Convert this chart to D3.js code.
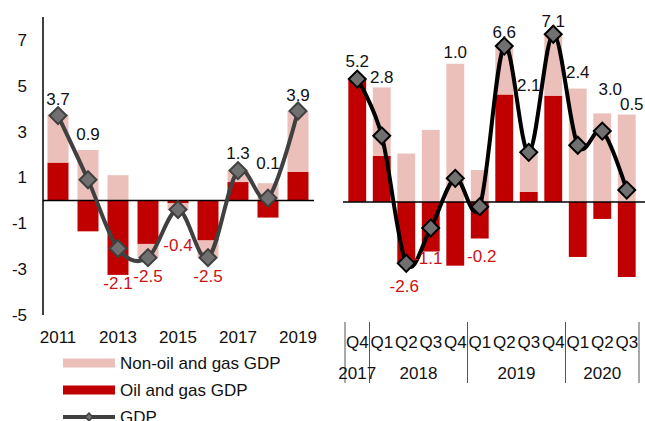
<!DOCTYPE html>
<html>
<head>
<meta charset="utf-8">
<script src="https://cdn.jsdelivr.net/npm/d3@7"></script>
<style>
  html, body { margin: 0; padding: 0; background: #fff; }
  svg { display: block; font-family: "Liberation Sans", Arial, sans-serif; }
</style>
</head>
<body>
<div id="chart"></div>
<script>
// annual panel
const years = ['2011', '2012', '2013', '2014', '2015', '2016', '2017', '2018', '2019'];
const yearTicks = ['2011', '2013', '2015', '2017', '2019'];
const yearGdp = [3.7, 0.9, -2.1, -2.5, -0.4, -2.5, 1.3, 0.1, 3.9];
const yearOil = [1.65, -1.35, -3.25, -1.9, -0.13, -1.75, 0.8, -0.75, 1.25];
const yearNonOil = [2.1, 2.2, 1.1, -0.6, -0.3, -0.75, 0.5, 0.75, 2.65];

// quarterly panel
const quarters = ['Q4', 'Q1', 'Q2', 'Q3', 'Q4', 'Q1', 'Q2', 'Q3', 'Q4', 'Q1', 'Q2', 'Q3'];
const quarterYears = ['2017', '2018', '2018', '2018', '2018', '2019', '2019', '2019', '2019', '2020', '2020', '2020'];
const qGdp = [5.2, 2.8, -2.6, -1.1, 1.0, -0.2, 6.6, 2.1, 7.1, 2.4, 3.0, 0.5];
const qOil = [5.17, 1.95, -2.55, -2.1, -2.7, -1.55, 4.55, 0.42, 4.5, -2.33, -0.72, -3.18];
const qNonOil = [0, 2.9, 2.05, 3.05, 5.85, 1.35, 2.0, 1.78, 2.65, 4.8, 3.75, 3.7];

const yTicks = [-5, -3, -1, 1, 3, 5, 7];
const legendItems = ['Non-oil and gas GDP', 'Oil and gas GDP', 'GDP'];

// label nudges (px, relative to each GDP marker)
const yearLabelDy = [-17, -46, 35, 18, 35, 18, -18, -35, -16];
const qLabelDx = [0, 0, -2, -3, 0, 2, 0, 0, 0, 0, 8, 5];
const qLabelDy = [-18, -59, 23, 30, -126, 49, -14, -67, -13, -73, -42, -86];

const width = 645;
const height = 421;
const lightRed = '#ecc0ba';
const darkRed = '#c00000';
const labelRed = '#cc1111';

const svg = d3.select('#chart').append('svg')
  .attr('width', width)
  .attr('height', height);

const diamond = d3.symbol(d3.symbolSquare, 144);

function stackRows(cats, oil, nonOil) {
  return cats.map((c, i) => {
    const rows = [];
    let pos = 0, neg = 0;
    [['oil', oil[i]], ['non', nonOil[i]]].forEach(([k, v]) => {
      if (v >= 0) { rows.push({ k, y0: pos, y1: pos + v }); pos += v; }
      else { rows.push({ k, y0: neg, y1: neg + v }); neg += v; }
    });
    return { i, rows };
  });
}

function drawPanel(opts) {
  const { cats, oil, nonOil, gdp, x, y, lineColour, strokeColour, dx, dy } = opts;
  const g = svg.append('g');
  const key = (d, i) => i;

  const stacks = stackRows(cats, oil, nonOil);
  stacks.forEach(s => {
    s.rows.forEach(r => {
      g.append('rect')
        .attr('x', x(s.i))
        .attr('width', x.bandwidth())
        .attr('y', y(Math.max(r.y0, r.y1)))
        .attr('height', Math.abs(y(r.y0) - y(r.y1)))
        .attr('fill', r.k === 'oil' ? darkRed : lightRed);
    });
  });

  g.append('line')
    .attr('x1', opts.zeroX[0]).attr('x2', opts.zeroX[1])
    .attr('y1', y(0)).attr('y2', y(0))
    .attr('stroke', '#000').attr('stroke-width', 1.5);

  const cx = i => x(i) + x.bandwidth() / 2;

  g.append('path')
    .datum(gdp)
    .attr('fill', 'none')
    .attr('stroke', lineColour)
    .attr('stroke-width', 4)
    .attr('d', d3.line()
      .x((d, i) => cx(i))
      .y(d => y(d))
      .curve(d3.curveCardinal.tension(0)));

  g.selectAll('.mk')
    .data(gdp)
    .enter()
    .append('path')
    .attr('d', diamond)
    .attr('transform', (d, i) => `translate(${cx(i)},${y(d)}) rotate(45)`)
    .attr('fill', '#707070')
    .attr('stroke', strokeColour)
    .attr('stroke-width', 2);

  g.selectAll('.lbl')
    .data(gdp)
    .enter()
    .append('text')
    .attr('x', (d, i) => cx(i) + (dx ? dx[i] : 0))
    .attr('y', (d, i) => y(d) + dy[i])
    .attr('dy', '0.35em')
    .attr('text-anchor', 'middle')
    .attr('font-size', 17)
    .attr('fill', d => d < 0 ? labelRed : '#111')
    .text(d => d.toFixed(1));
}

// left panel
const xL = d3.scaleBand().domain(d3.range(years.length)).range([43, 313])
  .paddingInner(0.3).paddingOuter(0.15);
const yL = d3.scaleLinear().domain([-5, 8]).range([315, 17]);

svg.append('line')
  .attr('x1', 43).attr('x2', 43)
  .attr('y1', yL(8)).attr('y2', yL(-5))
  .attr('stroke', '#000').attr('stroke-width', 1.5);

svg.selectAll('.ytick')
  .data(yTicks)
  .enter()
  .append('text')
  .attr('x', 27)
  .attr('y', d => yL(d))
  .attr('dy', '0.35em')
  .attr('text-anchor', 'end')
  .attr('font-size', 17)
  .attr('fill', '#111')
  .text(d => d);

drawPanel({
  cats: years, oil: yearOil, nonOil: yearNonOil, gdp: yearGdp,
  x: xL, y: yL, lineColour: '#404040', strokeColour: '#404040',
  dy: yearLabelDy, zeroX: [43, 314]
});

svg.selectAll('.xyear')
  .data(yearTicks)
  .enter()
  .append('text')
  .attr('x', d => xL(years.indexOf(d)) + xL.bandwidth() / 2)
  .attr('y', 337)
  .attr('dy', '0.35em')
  .attr('text-anchor', 'middle')
  .attr('font-size', 17)
  .attr('fill', '#111')
  .text(d => d);

// right panel
const xR = d3.scaleBand().domain(d3.range(quarters.length)).range([345, 639])
  .paddingInner(0.27).paddingOuter(0.135);
const yR = d3.scaleLinear().domain([-5, 8]).range([320, 13]);

drawPanel({
  cats: quarters, oil: qOil, nonOil: qNonOil, gdp: qGdp,
  x: xR, y: yR, lineColour: '#000', strokeColour: '#000',
  dx: qLabelDx, dy: qLabelDy, zeroX: [343, 645]
});

svg.selectAll('.xq')
  .data(quarters)
  .enter()
  .append('text')
  .attr('x', (d, i) => xR(i) + xR.bandwidth() / 2)
  .attr('y', 342)
  .attr('dy', '0.35em')
  .attr('text-anchor', 'middle')
  .attr('font-size', 17)
  .attr('fill', '#111')
  .text(d => d);

// year groups under the quarters
const groups = d3.groups(quarterYears.map((yr, i) => ({ yr, i })), d => d.yr)
  .map(([yr, items]) => ({ yr, first: items[0].i, last: items[items.length - 1].i }));

const step = xR.step();
const edges = [xR(0) - step * xR.paddingOuter() + step * 0.0];
groups.forEach(gp => edges.push(xR(gp.last) + xR.bandwidth() + (step - xR.bandwidth()) / 2));

svg.selectAll('.sep')
  .data(edges)
  .enter()
  .append('line')
  .attr('x1', d => d).attr('x2', d => d)
  .attr('y1', 322).attr('y2', 383)
  .attr('stroke', '#555').attr('stroke-width', 1);

svg.selectAll('.xgrp')
  .data(groups)
  .enter()
  .append('text')
  .attr('x', d => (xR(d.first) + xR(d.last) + xR.bandwidth()) / 2)
  .attr('y', 373)
  .attr('dy', '0.35em')
  .attr('text-anchor', 'middle')
  .attr('font-size', 17)
  .attr('fill', '#111')
  .text(d => d.yr);

// legend
const legend = svg.append('g').attr('transform', 'translate(63,363)');
legendItems.forEach((name, i) => {
  const row = legend.append('g').attr('transform', `translate(0,${i * 27})`);
  if (i < 2) {
    row.append('rect')
      .attr('x', 0).attr('y', -4.5)
      .attr('width', 52).attr('height', 9)
      .attr('fill', i === 0 ? lightRed : darkRed);
  } else {
    row.append('line')
      .attr('x1', 0).attr('x2', 52)
      .attr('stroke', '#404040').attr('stroke-width', 4);
    row.append('path')
      .attr('d', d3.symbol(d3.symbolSquare, 30))
      .attr('transform', 'translate(26,0) rotate(45)')
      .attr('fill', '#707070')
      .attr('stroke', '#404040')
      .attr('stroke-width', 1.5);
  }
  row.append('text')
    .attr('x', 57)
    .attr('dy', '0.35em')
    .attr('font-size', 17)
    .attr('fill', '#111')
    .text(name);
});
</script>
</body>
</html>
